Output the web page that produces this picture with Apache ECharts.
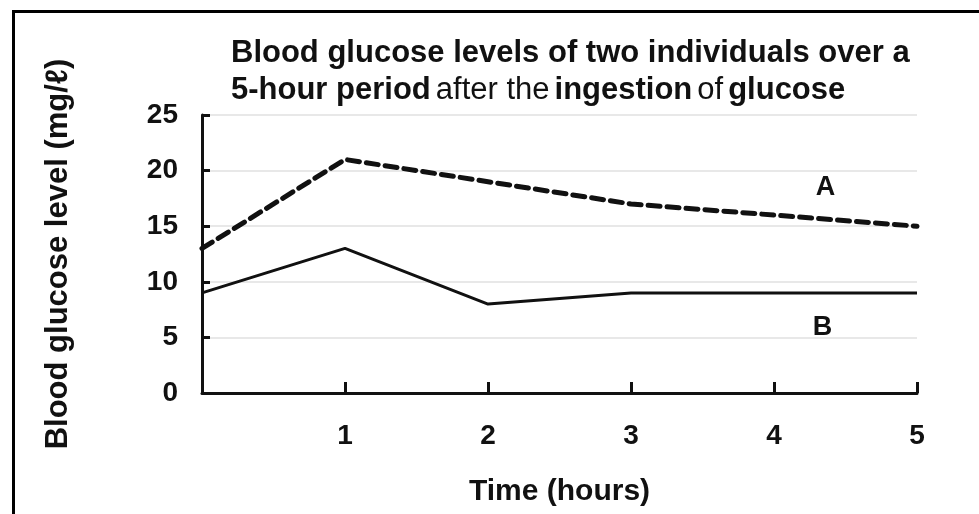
<!DOCTYPE html>
<html>
<head>
<meta charset="utf-8">
<script src="https://cdn.jsdelivr.net/npm/echarts@6/dist/echarts.min.js"></script>
<style>
  html, body { margin: 0; padding: 0; background: #fff; }
  #frame { position: absolute; left: 12px; top: 10px; width: 967px; height: 504px;
           border-top: 3px solid #000; border-left: 3px solid #000; }
  #chart { position: absolute; left: 0; top: 0; width: 979px; height: 514px; }
</style>
</head>
<body>
<div id="frame"></div>
<div id="chart"></div>
<script>
// data
const hours = [0, 1, 2, 3, 4, 5];
const xTickLabels = ['', '1', '2', '3', '4', '5'];
const individualA = [13, 21, 19, 17, 16, 15];
const individualB = [9, 13, 8, 9, 9, 9];

const chart = echarts.init(document.getElementById('chart'));
const font = 'Liberation Sans, Arial, sans-serif';

// curve name placed beside the line, in data space
const curveTag = (text, coord) => ({
  symbol: 'circle',
  symbolSize: 2,
  itemStyle: { color: 'rgba(0,0,0,0)' },
  label: {
    show: true, position: 'inside', formatter: text,
    fontFamily: font, fontSize: 27, fontWeight: 'bold', color: '#111'
  },
  data: [{ coord: coord }]
});

const option = {
  animation: false,
  backgroundColor: 'transparent',
  title: {
    text: '{b|Blood glucose levels of two individuals over a}\n' +
          '{b|5-hour period} {n|after the} {b|ingestion} {n|of} {b|glucose}',
    left: 226,
    top: 30,
    textStyle: {
      rich: {
        b: { fontFamily: font, fontSize: 31, fontWeight: 'bold', color: '#111', lineHeight: 37 },
        n: { fontFamily: font, fontSize: 31, fontWeight: 'normal', color: '#111', lineHeight: 37 }
      }
    }
  },
  grid: { left: 202, right: 62, top: 115, bottom: 121 },
  xAxis: {
    type: 'value',
    min: 0,
    max: 5,
    interval: 1,
    name: 'Time (hours)',
    nameLocation: 'middle',
    nameGap: 84,
    nameTextStyle: { fontFamily: font, fontSize: 30, fontWeight: 'bold', color: '#111' },
    axisLine: { show: true, onZero: false, lineStyle: { color: '#111', width: 3 } },
    axisTick: { show: true, inside: true, length: 11, lineStyle: { color: '#111', width: 3 } },
    axisLabel: {
      margin: 29,
      fontFamily: font, fontSize: 28, fontWeight: 'bold', color: '#111',
      formatter: v => xTickLabels[hours.indexOf(v)] || ''
    },
    splitLine: { show: false }
  },
  yAxis: {
    type: 'value',
    min: 0,
    max: 25,
    interval: 5,
    name: 'Blood glucose level (mg/ℓ)',
    nameLocation: 'middle',
    nameGap: 128,
    nameTextStyle: { fontFamily: font, fontSize: 31, fontWeight: 'bold', color: '#111' },
    axisLine: { show: true, lineStyle: { color: '#111', width: 3 } },
    axisTick: { show: true, inside: true, length: 8, lineStyle: { color: '#111', width: 3 } },
    axisLabel: { margin: 24, fontFamily: font, fontSize: 28, fontWeight: 'bold', color: '#111' },
    splitLine: { show: true, lineStyle: { color: '#e0e0e0', width: 1.5 } }
  },
  series: [
    {
      name: 'A',
      type: 'line',
      data: hours.map((h, i) => [h, individualA[i]]),
      symbol: 'none',
      lineStyle: { color: '#111', width: 5, type: [12, 7], cap: 'round' },
      markPoint: curveTag('A', [4.36, 18.5])
    },
    {
      name: 'B',
      type: 'line',
      data: hours.map((h, i) => [h, individualB[i]]),
      symbol: 'none',
      lineStyle: { color: '#111', width: 3 },
      markPoint: curveTag('B', [4.34, 5.85])
    }
  ]
};

chart.setOption(option);
</script>
</body>
</html>
